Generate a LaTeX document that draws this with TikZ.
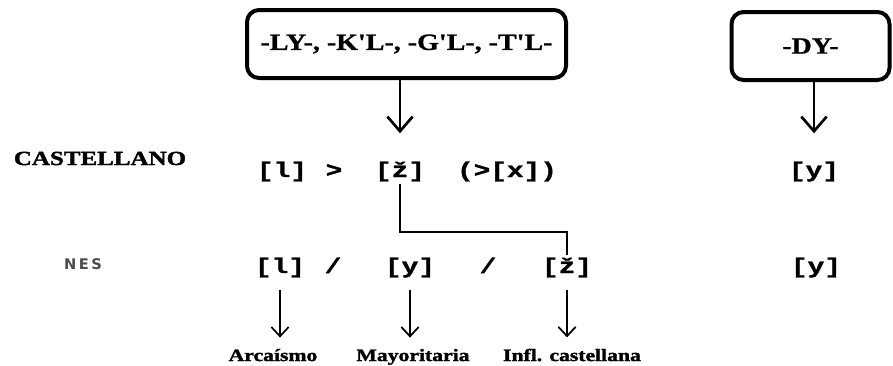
\documentclass[tikz,border=0pt]{standalone}
\usepackage{fontspec}
\usetikzlibrary{arrows.meta}
\newfontfamily\slab{Liberation Serif}[UprightFont=* Bold, FakeStretch=1.2, FakeBold=1]
\newfontfamily\slabh{Liberation Serif}[UprightFont=* Bold, FakeStretch=1.25, FakeBold=1.8]
\newfontfamily\monob{Liberation Mono}[UprightFont=* Bold, FakeStretch=1.3, FakeBold=1.5]
\newfontfamily\faint{DejaVu Sans}[UprightFont=* Bold]
\begin{document}
\begin{tikzpicture}[x=0.75pt,y=-0.75pt,
  srcbox/.style={draw, line width=3pt, rounded corners=9pt, inner sep=0pt},
  boxtext/.style={font=\slab\fontsize{17.5}{20}\selectfont},
  lbl/.style={font=\slabh\fontsize{15}{18}\selectfont, anchor=base},
  ipa/.style={font=\monob\fontsize{16}{19}\selectfont, anchor=base, inner sep=2pt},
  bot/.style={font=\slabh\fontsize{13}{16}\selectfont, anchor=base},
  bigarr/.style={line width=2pt, -{Straight Barb[length=11pt,width=19pt]}, shorten >=19pt},
  smallarr/.style={line width=1.3pt, -{Straight Barb[length=7pt,width=13pt]}, shorten <=7.5pt, shorten >=5pt},
  conn/.style={line width=1.5pt}]
\useasboundingbox (0,0) rectangle (893,365);
% source boxes
\node[srcbox, boxtext, minimum width=239.25pt, minimum height=51pt] (bL) at (406.5,44) {-LY-, -K'L-, -G'L-, -T'L-};
\node[srcbox, boxtext, minimum width=118.5pt, minimum height=51pt] (bR) at (810.5,46) {-DY-};
% row labels
\node[lbl] (cast) at (100,165) {CASTELLANO};
\node[font=\faint\fontsize{11}{13}\selectfont, text=black!70, anchor=base] (nes) at (83,269) {N\,E\,S};
% row 1
\node[ipa] (a1) at (282,177) {[l]};
\node[ipa] (gt) at (334,177) {>};
\node[ipa] (z1) at (400,177) {[ž]};
\node[ipa] (x1) at (507,177) {(>[x])};
\node[ipa] (y1) at (814,177) {[y]};
% row 2
\node[ipa] (a2) at (280,273) {[l]};
\node[ipa] (s1) at (333,273) {/};
\node[ipa] (y2) at (410,273) {[y]};
\node[ipa] (s2) at (488,273) {/};
\node[ipa] (z2) at (567,273) {[ž]};
\node[ipa] (y3) at (816,273) {[y]};
% bottom labels
\node[bot] (l1) at (273,361) {Arcaísmo};
\node[bot] (l2) at (413,361) {Mayoritaria};
\node[bot] (l3) at (572,361) {Infl. castellana};
% connectors
\coordinate (hl) at (0,232);
\draw[bigarr] (bL.south -| z1.north) -- (z1.north);
\draw[bigarr] (bR.south -| y1.north) -- (y1.north);
\draw[conn] (z1.south) -- (z1.south |- hl) -| (z2.north);
\draw[smallarr] (a2.south) -- (a2.south |- l1.north);
\draw[smallarr] (y2.south) -- (y2.south |- l2.north);
\draw[smallarr] (z2.south) -- (z2.south |- l3.north);
\end{tikzpicture}
\end{document}
